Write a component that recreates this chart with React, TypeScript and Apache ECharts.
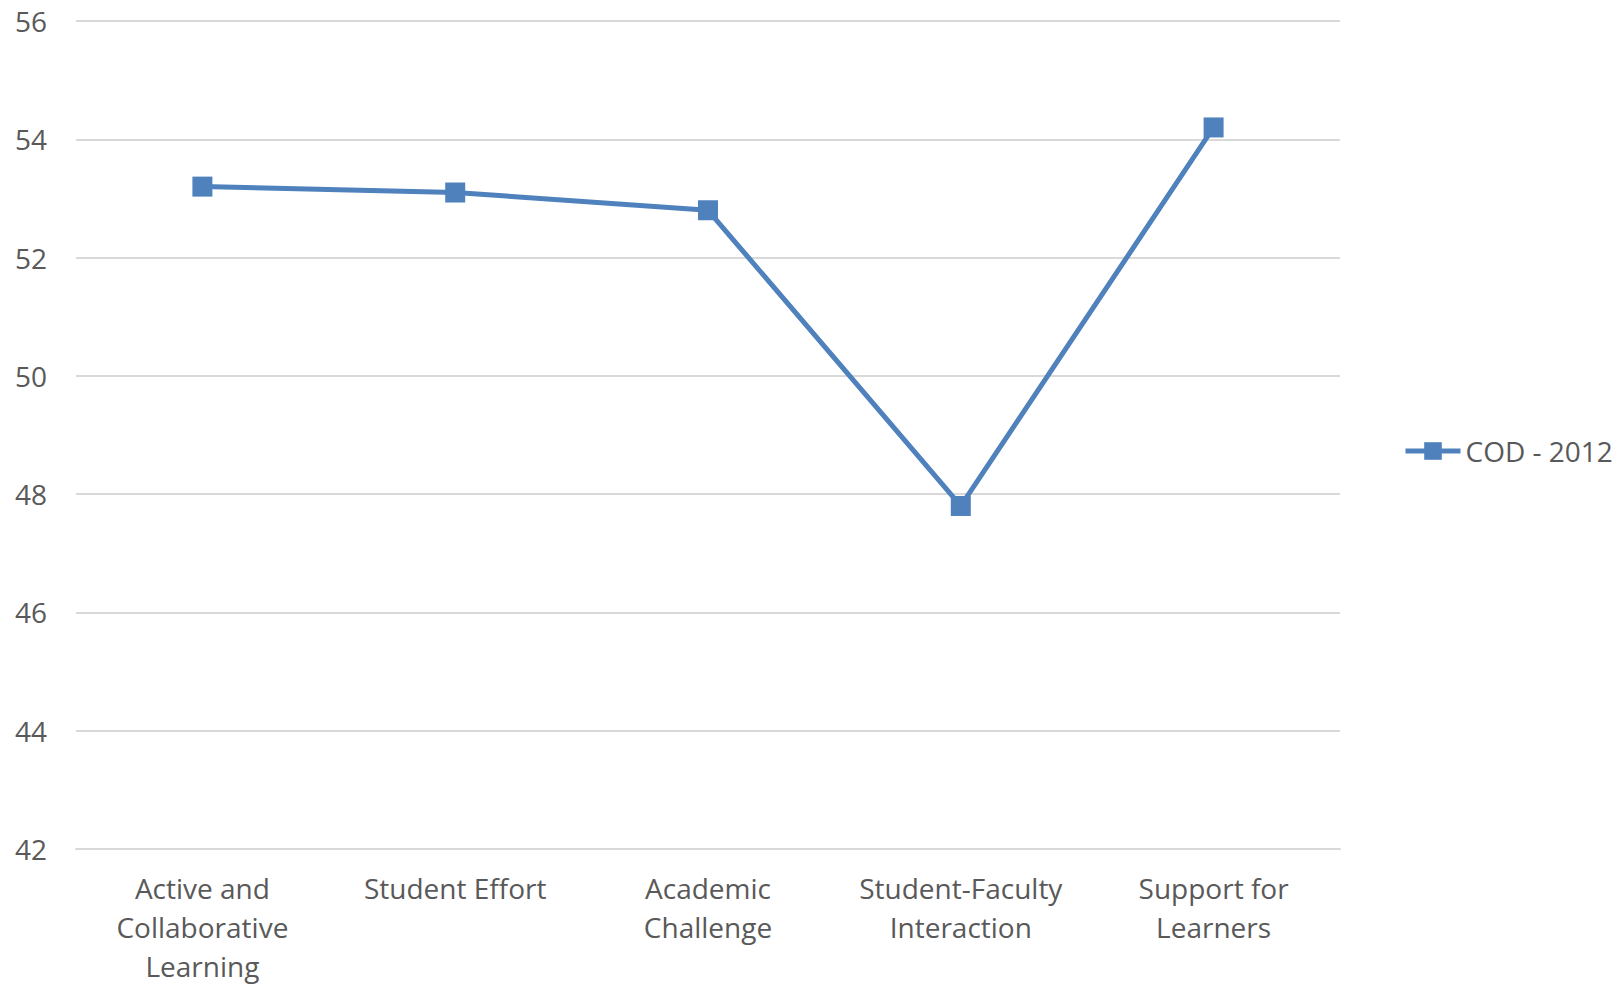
import React, { useEffect, useRef } from "react";
import * as echarts from "echarts";

// CCSSE benchmark scores
const categories = [
  "Active and\nCollaborative\nLearning",
  "Student Effort",
  "Academic\nChallenge",
  "Student-Faculty\nInteraction",
  "Support for\nLearners",
];
const seriesName = "COD - 2012";
const scores = [53.2, 53.1, 52.8, 47.8, 54.2];
const yMin = 42;
const yMax = 56;
const yStep = 2;

const FONT = "'Open Sans', 'Noto Sans', sans-serif";
const TEXT = "#595959";
const GRID = "#d9d9d9";
const BLUE = "#4f81bd";

export default function App() {
  const ref = useRef<HTMLDivElement>(null);

  useEffect(() => {
    if (!ref.current) return;
    const chart = echarts.init(ref.current, undefined, { renderer: "svg" });
    chart.setOption({
      animation: false,
      backgroundColor: "#ffffff",
      textStyle: { fontFamily: FONT },
      grid: { left: 76, right: 278, top: 21, bottom: 134 },
      legend: {
        data: [seriesName],
        left: 1398,
        top: 426,
        itemWidth: 55,
        itemHeight: 22,
        itemGap: 5,
        lineStyle: { width: 5 },
        textStyle: { color: TEXT, fontSize: 28, fontFamily: FONT, lineHeight: 40 },
      },
      xAxis: {
        type: "category",
        data: categories,
        axisLine: { lineStyle: { color: GRID, width: 2 } },
        axisTick: { length: 10, lineStyle: { color: GRID, width: 2 } },
        axisLabel: {
          color: TEXT,
          fontSize: 28,
          fontFamily: FONT,
          lineHeight: 39,
          margin: 19,
          interval: 0,
        },
      },
      yAxis: {
        type: "value",
        min: yMin,
        max: yMax,
        interval: yStep,
        axisLine: { show: false },
        axisTick: { show: false },
        axisLabel: { color: TEXT, fontSize: 28, fontFamily: FONT, margin: 29 },
        splitLine: { lineStyle: { color: GRID, width: 2 } },
      },
      series: [
        {
          name: seriesName,
          type: "line",
          data: scores,
          symbol: "rect",
          symbolSize: 20,
          itemStyle: { color: BLUE },
          lineStyle: { color: BLUE, width: 5 },
        },
      ],
    });
    return () => chart.dispose();
  }, []);

  return (
    <div
      ref={ref}
      style={{ position: "absolute", left: 0, top: 0, width: 1618, height: 985 }}
    />
  );
}
